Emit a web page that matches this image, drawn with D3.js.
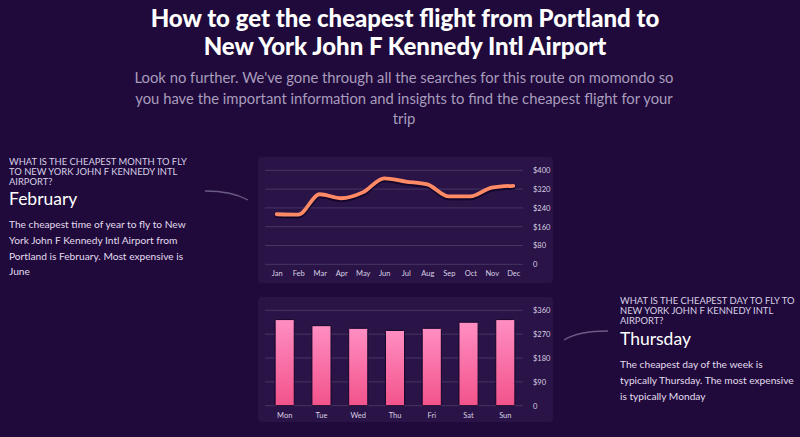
<!DOCTYPE html>
<html><head><meta charset="utf-8">
<script src="https://cdn.jsdelivr.net/npm/d3@7/dist/d3.min.js"></script>
<style>
html,body{margin:0;padding:0;background:#1f0a3b;}
svg{display:block;}
</style></head>
<body>
<script>
const months = ["Jan","Feb","Mar","Apr","May","Jun","Jul","Aug","Sep","Oct","Nov","Dec"];
const monthPrices = [213, 211, 298, 281, 306, 366, 352, 340, 289, 289, 326, 334];
const monthTicks = [0, 80, 160, 240, 320, 400];
const days = ["Mon","Tue","Wed","Thu","Fri","Sat","Sun"];
const dayPrices = [325, 302, 292, 284, 292, 315, 325];
const dayTicks = [0, 90, 180, 270, 360];

const titleLines = ["How to get the cheapest flight from Portland to", "New York John F Kennedy Intl Airport"];
const subLines = ["Look no further. We've gone through all the searches for this route on momondo so",
  "you have the important information and insights to find the cheapest flight for your", "trip"];
const leftQ = ["WHAT IS THE CHEAPEST MONTH TO FLY", "TO NEW YORK JOHN F KENNEDY INTL", "AIRPORT?"];
const leftA = "February";
const leftBody = ["The cheapest time of year to fly to New", "York John F Kennedy Intl Airport from",
  "Portland is February. Most expensive is", "June"];
const rightQ = ["WHAT IS THE CHEAPEST DAY TO FLY TO", "NEW YORK JOHN F KENNEDY INTL", "AIRPORT?"];
const rightA = "Thursday";
const rightBody = ["The cheapest day of the week is", "typically Thursday. The most expensive", "is typically Monday"];

const W = 800, H = 437;
const FONT = "Lato, 'Open Sans', sans-serif";
const svg = d3.select("body").append("svg").attr("width", W).attr("height", H);
svg.append("rect").attr("width", W).attr("height", H).attr("fill", "#1f0a3b");

const defs = svg.append("defs");
const grad = defs.append("linearGradient").attr("id","barGrad").attr("x1",0).attr("y1",0).attr("x2",0).attr("y2",1);
grad.append("stop").attr("offset","0%").attr("stop-color","#ff8ec2");
grad.append("stop").attr("offset","100%").attr("stop-color","#f2538b");

// Title
svg.append("g").selectAll("text").data(titleLines).join("text")
  .attr("x", 405).attr("y", (d,i)=>27 + i*28)
  .attr("text-anchor","middle").attr("fill","#ffffff")
  .attr("font-family",FONT).attr("font-weight","900").attr("font-size",24)
  .text(d=>d);
svg.append("g").selectAll("text").data(subLines).join("text")
  .attr("x", 404).attr("y", (d,i)=>83 + i*20.5)
  .attr("text-anchor","middle").attr("fill","#a99cbc")
  .attr("font-family",FONT).attr("font-size",14.8)
  .text(d=>d);

// Side texts
function sideBlock(x, qY, q, a, aY, body, bY){
  const g = svg.append("g");
  g.selectAll("text.q").data(q).join("text").attr("class","q")
    .attr("x",x).attr("y",(d,i)=>qY + i*10.2)
    .attr("fill","#d9d0e6").attr("font-family",FONT).attr("font-size",9.4)
    .text(d=>d);
  g.append("text").attr("x",x).attr("y",aY).attr("fill","#ffffff")
    .attr("font-family",FONT).attr("font-size",17.5).text(a);
  g.selectAll("text.b").data(body).join("text").attr("class","b")
    .attr("x",x).attr("y",(d,i)=>bY + i*15.8)
    .attr("fill","#e4dcee").attr("font-family",FONT).attr("font-size",10.2)
    .text(d=>d);
}
sideBlock(9, 165, leftQ, leftA, 205, leftBody, 228);
sideBlock(620, 304, rightQ, rightA, 345, rightBody, 368);

// connectors
svg.append("path").attr("d","M205,191 Q232,191 248,200").attr("fill","none")
  .attr("stroke","#6a5a86").attr("stroke-width",1.4);
svg.append("path").attr("d","M564,340 Q578,331 608,331").attr("fill","none")
  .attr("stroke","#6a5a86").attr("stroke-width",1.4);

// Panels
svg.append("rect").attr("x",258).attr("y",157).attr("width",295).attr("height",126).attr("rx",4).attr("fill","#2a1346");
svg.append("rect").attr("x",258).attr("y",297).attr("width",295).attr("height",125).attr("rx",4).attr("fill","#2a1346");

// Line chart
const xM = d3.scalePoint().domain(months).range([276.7, 513.3]);
const yM = d3.scaleLinear().domain([0,400]).range([264.3,170.3]);
const gL = svg.append("g");
gL.append("g").selectAll("line").data(monthTicks).join("line")
  .attr("x1",265).attr("x2",523).attr("y1",d=>yM(d)).attr("y2",d=>yM(d))
  .attr("stroke","#463666").attr("stroke-width",1);
const yAxisM = d3.axisRight(yM).tickValues(monthTicks).tickSize(0)
  .tickFormat(d=> d===0 ? "0" : "$"+d);
gL.append("g").attr("transform","translate(531,0)").call(yAxisM)
  .call(g=>g.select(".domain").remove())
  .call(g=>g.selectAll("text").attr("fill","#d8d0e4").attr("font-family",FONT).attr("font-size",7.5).attr("x",2));
const xAxisM = d3.axisBottom(xM).tickSize(0);
gL.append("g").attr("transform","translate(0,268)").call(xAxisM)
  .call(g=>g.select(".domain").remove())
  .call(g=>g.selectAll("text").attr("fill","#d8d0e4").attr("font-family",FONT).attr("font-size",7.5));
const line = d3.line().x((d,i)=>xM(months[i])).y(d=>yM(d)).curve(d3.curveMonotoneX);
gL.append("path").datum(monthPrices).attr("d",line).attr("fill","none")
  .attr("stroke","#12062a").attr("stroke-width",5).attr("transform","translate(0,1.3)").attr("stroke-linecap","round");
gL.append("path").datum(monthPrices).attr("d",line).attr("fill","none")
  .attr("stroke","#ff8a66").attr("stroke-width",3.8).attr("stroke-linecap","round");

// Bar chart
const xD = d3.scaleBand().domain(days).range([266.3,523.7]).paddingInner(0.48).paddingOuter(0.24);
const yD = d3.scaleLinear().domain([0,360]).range([405.7,310.3]);
const gB = svg.append("g");
gB.append("g").selectAll("line").data(dayTicks).join("line")
  .attr("x1",265).attr("x2",523).attr("y1",d=>yD(d)).attr("y2",d=>yD(d))
  .attr("stroke","#463666").attr("stroke-width",1);
gB.append("g").selectAll("rect").data(dayPrices).join("rect")
  .attr("x",(d,i)=>xD(days[i])).attr("width",xD.bandwidth())
  .attr("y",d=>yD(d)).attr("height",d=>yD(0)-yD(d))
  .attr("fill","url(#barGrad)").attr("stroke","#12062a").attr("stroke-width",1).attr("rx",1);
const yAxisD = d3.axisRight(yD).tickValues(dayTicks).tickSize(0)
  .tickFormat(d=> d===0 ? "0" : "$"+d);
gB.append("g").attr("transform","translate(531,0)").call(yAxisD)
  .call(g=>g.select(".domain").remove())
  .call(g=>g.selectAll("text").attr("fill","#d8d0e4").attr("font-family",FONT).attr("font-size",7.5).attr("x",2));
const xAxisD = d3.axisBottom(xD).tickSize(0);
gB.append("g").attr("transform","translate(0,410)").call(xAxisD)
  .call(g=>g.select(".domain").remove())
  .call(g=>g.selectAll("text").attr("fill","#d8d0e4").attr("font-family",FONT).attr("font-size",7.5));
</script>
</body></html>
